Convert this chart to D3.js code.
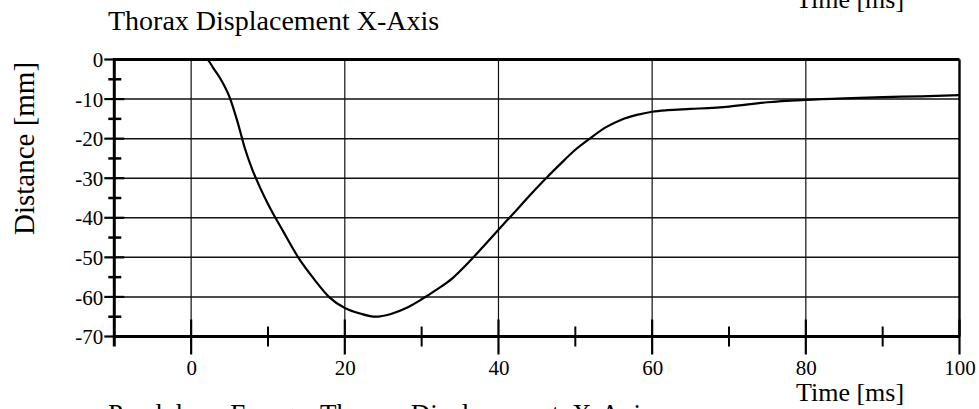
<!DOCTYPE html>
<html>
<head>
<meta charset="utf-8">
<script src="https://cdn.jsdelivr.net/npm/d3@7"></script>
<style>
  html, body { margin: 0; padding: 0; background: #fff; }
  svg { display: block; }
  text { font-family: "Liberation Serif", "DejaVu Serif", serif; fill: #000; }
</style>
</head>
<body>
<svg id="chart" width="979" height="409"></svg>
<script>
// ---- data ----
const timeMs = [0,1,2,3,4,5,6,7,8,9,10,12,14,16,18,20,22,24,26,28,30,32,34,36,38,40,42,44,46,48,50,52,54,56,58,60,62,65,70,75,80,85,90,95,100];
const distanceMm = [0,0,0,-2.5,-5.5,-9.5,-15.5,-22.5,-28,-32.5,-36.5,-43.5,-50.2,-55.5,-60.1,-62.8,-64.2,-65.0,-64.3,-62.8,-60.6,-58.1,-55.3,-51.5,-47.3,-43.0,-38.8,-34.5,-30.4,-26.5,-22.8,-19.8,-17.1,-15.2,-14.0,-13.2,-12.8,-12.5,-11.9,-10.8,-10.2,-9.8,-9.5,-9.3,-9.0];
const xMajorTicks = [0,20,40,60,80,100];
const xMinorTicks = [10,30,50,70,90];
const yMajorTicks = [0,-10,-20,-30,-40,-50,-60,-70];
const yMinorTicks = [-5,-15,-25,-35,-45,-55,-65];
const titleText = "Thorax Displacement X-Axis";
const xAxisLabel = "Time [ms]";
const yAxisLabel = "Distance [mm]";
const nextTitleText = "Pendulum Energy Thorax Displacement X-Axis";

// ---- layout ----
const svg = d3.select("#chart");
const x = d3.scaleLinear().domain([-10, 100]).range([114.3, 959.5]);
const y = d3.scaleLinear().domain([0, -70]).range([59.5, 336.5]);
const fmt = d => String(d); // plain hyphen-minus like the reference

// horizontal grid
svg.append("g").selectAll("line").data(yMajorTicks.filter(d => d !== 0 && d !== -70)).join("line")
  .attr("x1", x(-10)).attr("x2", x(100))
  .attr("y1", d => y(d)).attr("y2", d => y(d))
  .attr("stroke", "#111").attr("stroke-width", 1.5);

// vertical grid
svg.append("g").selectAll("line").data(xMajorTicks.filter(d => d !== 100)).join("line")
  .attr("x1", d => x(d)).attr("x2", d => x(d))
  .attr("y1", y(0)).attr("y2", y(-70))
  .attr("stroke", "#111").attr("stroke-width", 1.2);

// x axis
const xAxis = d3.axisBottom(x).tickValues(xMajorTicks).tickFormat(fmt).tickSize(0).tickPadding(0);
const gx = svg.append("g").attr("transform", `translate(0,${y(-70)})`).call(xAxis);
gx.select(".domain").remove();
gx.selectAll(".tick line").remove();
gx.selectAll(".tick text").attr("y", 38.5).attr("dy", null)
  .style("font-family", "Liberation Serif").style("font-size", "21px");
svg.append("line").attr("x1", x(-10)).attr("x2", x(100)).attr("y1", y(-70)).attr("y2", y(-70))
  .attr("stroke", "#000").attr("stroke-width", 3);
svg.append("g").selectAll("line").data(xMajorTicks).join("line")
  .attr("x1", d => x(d)).attr("x2", d => x(d))
  .attr("y1", y(-70) - 17).attr("y2", y(-70) + 18)
  .attr("stroke", "#000").attr("stroke-width", 2.2);
svg.append("g").selectAll("line").data(xMinorTicks).join("line")
  .attr("x1", d => x(d)).attr("x2", d => x(d))
  .attr("y1", y(-70) - 10).attr("y2", y(-70) + 10)
  .attr("stroke", "#000").attr("stroke-width", 2);

// top line (0) and right border
svg.append("line").attr("x1", x(-10)).attr("x2", x(100)).attr("y1", y(0)).attr("y2", y(0))
  .attr("stroke", "#000").attr("stroke-width", 3);
svg.append("line").attr("x1", x(100)).attr("x2", x(100)).attr("y1", y(0)).attr("y2", y(-70))
  .attr("stroke", "#000").attr("stroke-width", 2.4);

// y axis
const yAxis = d3.axisLeft(y).tickValues(yMajorTicks).tickFormat(fmt).tickSize(0).tickPadding(0);
const gy = svg.append("g").attr("transform", `translate(${x(-10)},0)`).call(yAxis);
gy.select(".domain").remove();
gy.selectAll(".tick line").remove();
gy.selectAll(".tick text").attr("x", -11).attr("dy", "0.34em")
  .style("font-family", "Liberation Serif").style("font-size", "21px");
svg.append("line").attr("x1", x(-10)).attr("x2", x(-10)).attr("y1", y(0) - 1.5).attr("y2", y(-70) + 10)
  .attr("stroke", "#000").attr("stroke-width", 3);
svg.append("g").selectAll("line").data(yMajorTicks).join("line")
  .attr("x1", x(-10) - 10).attr("x2", x(-10) + 10)
  .attr("y1", d => y(d)).attr("y2", d => y(d))
  .attr("stroke", "#000").attr("stroke-width", 2.2);
svg.append("g").selectAll("line").data(yMinorTicks).join("line")
  .attr("x1", x(-10) - 6).attr("x2", x(-10) + 7)
  .attr("y1", d => y(d)).attr("y2", d => y(d))
  .attr("stroke", "#000").attr("stroke-width", 2.5);

// curve
const line = d3.line().x((d, i) => x(timeMs[i])).y(d => y(d)).curve(d3.curveMonotoneX);
svg.append("path").datum(distanceMm).attr("d", line)
  .attr("fill", "none").attr("stroke", "#000").attr("stroke-width", 2.2);

// texts
svg.append("text").attr("x", 108).attr("y", 30).style("font-size", "28px").text(titleText);
svg.append("text").attr("x", 796).attr("y", 7.5).style("font-size", "26px").text(xAxisLabel);
svg.append("text").attr("x", 796).attr("y", 401).style("font-size", "26px").text(xAxisLabel);
svg.append("text").attr("transform", "translate(33.5,148.5) rotate(-90)")
  .attr("text-anchor", "middle").style("font-size", "29px").text(yAxisLabel);
svg.append("text").attr("x", 108).attr("y", 423).style("font-size", "27px")
  .style("word-spacing", "6px").text(nextTitleText);
</script>
</body>
</html>
